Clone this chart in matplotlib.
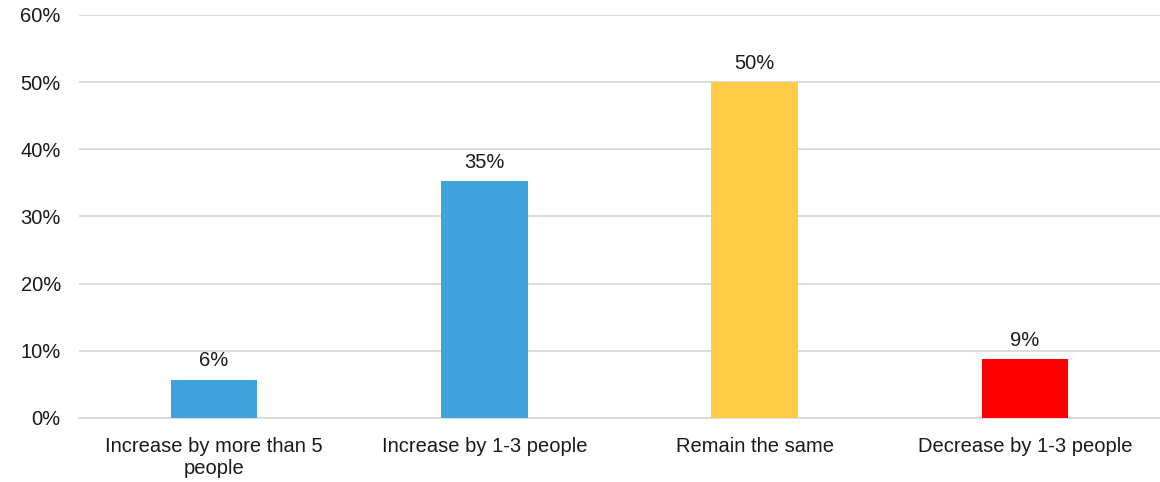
import matplotlib
matplotlib.use("Agg")
import matplotlib.pyplot as plt
from matplotlib.ticker import PercentFormatter

plt.rcParams["font.family"] = ["Liberation Sans", "DejaVu Sans"]

categories = ["Increase by more than 5\npeople", "Increase by 1-3 people",
              "Remain the same", "Decrease by 1-3 people"]
values = [5.7, 35.2, 50.0, 8.7]
labels = ["6%", "35%", "50%", "9%"]
colors = ["#41A3DC", "#41A3DC", "#FFCC47", "#FF0000"]

FS = 14.5

fig = plt.figure(figsize=(11.6, 4.82), dpi=100)
ax = fig.add_axes([0.068, 0.133, 0.932, 0.836])

x = range(len(categories))
bars = ax.bar(x, values, width=0.32, color=colors, zorder=3)
for b, lab in zip(bars, labels):
    ax.text(b.get_x() + b.get_width() / 2, b.get_height() + 1.4, lab,
            ha="center", va="bottom", fontsize=FS, color="#1a1a1a")

ax.set_xlim(-0.5, 3.5)
ax.set_ylim(0, 60)
ax.set_yticks(range(0, 61, 10))
ax.yaxis.set_major_formatter(PercentFormatter(decimals=0))
ax.set_xticks(list(x))
ax.set_xticklabels(categories, fontsize=FS, color="#1a1a1a", linespacing=1.15)
ax.tick_params(axis="y", labelsize=FS, labelcolor="#1a1a1a", length=0, pad=13)
ax.tick_params(axis="x", length=0, pad=14)
ax.grid(axis="y", color="#D9D9D9", linewidth=1.3, zorder=0)
for side in ["top", "right", "left"]:
    ax.spines[side].set_visible(False)
ax.spines["bottom"].set_color("#D9D9D9")
ax.spines["bottom"].set_linewidth(1.3)

fig.savefig("out.png", dpi=100)
